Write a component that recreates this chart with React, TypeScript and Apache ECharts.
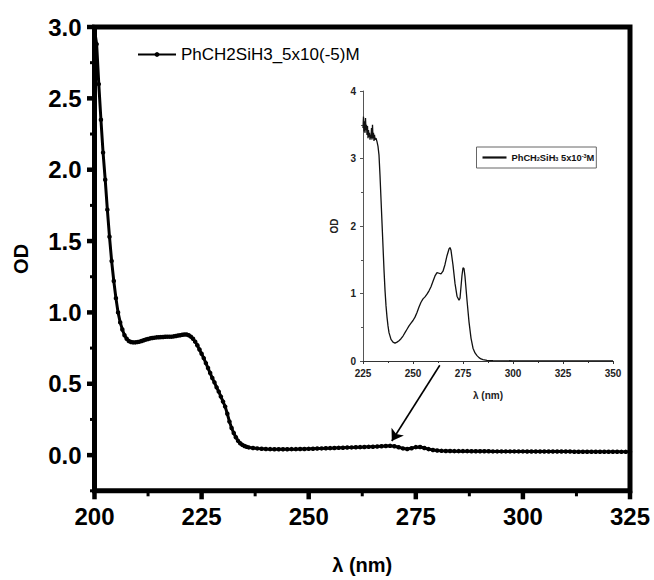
import React, { useEffect, useRef } from "react";
import * as echarts from "echarts";

// Main spectrum: wavelength (nm) and optical density
const mainLambda = [
  200, 200.5, 201, 201.5, 202, 202.5, 203, 203.5, 204, 204.5,
  205, 205.5, 206, 206.5, 207, 207.5, 208, 208.5, 209, 209.5,
  210, 210.5, 211, 211.5, 212, 212.5, 213, 213.5, 214, 214.5,
  215, 215.5, 216, 216.5, 217, 217.5, 218, 218.5, 219, 219.5,
  220, 220.5, 221, 221.5, 222, 222.5, 223, 223.5, 224, 224.5,
  225, 225.5, 226, 226.5, 227, 227.5, 228, 228.5, 229, 229.5,
  230, 230.5, 231, 231.5, 232, 232.5, 233, 233.5, 234, 234.5,
  235, 235.5, 236,
  237, 238, 239, 240, 241, 242, 243, 244, 245, 246,
  247, 248, 249, 250, 251, 252, 253, 254, 255, 256,
  257, 258, 259, 260, 261, 262, 263, 264, 265, 266,
  267, 268, 269, 270, 271, 272, 273, 274, 275, 276,
  277, 278, 279, 280, 281, 282, 283, 284, 285, 286,
  287, 288, 289, 290, 291, 292, 293, 294, 295, 296,
  297, 298, 299, 300, 301, 302, 303, 304, 305, 306,
  307, 308, 309, 310, 311, 312, 313, 314, 315, 316,
  317, 318, 319, 320, 321, 322, 323, 324, 325,
];
const mainOD = [
  2.98, 2.88, 2.6, 2.35, 2.12, 1.93, 1.72, 1.53, 1.36, 1.22,
  1.1, 1.0, 0.93, 0.88, 0.84, 0.815, 0.8, 0.793, 0.79, 0.79,
  0.792, 0.795, 0.8, 0.805, 0.81, 0.814, 0.818, 0.821, 0.823, 0.825,
  0.826, 0.827, 0.828, 0.829, 0.83, 0.83, 0.83, 0.832, 0.835, 0.838,
  0.84, 0.843, 0.845, 0.845, 0.84, 0.83, 0.815, 0.795, 0.77, 0.74,
  0.71, 0.68, 0.645, 0.61, 0.575, 0.54, 0.51, 0.475, 0.445, 0.41,
  0.375, 0.34, 0.29, 0.235, 0.19, 0.155, 0.125, 0.1, 0.083, 0.072,
  0.064, 0.058, 0.054,
  0.05, 0.047, 0.045, 0.043, 0.042, 0.041, 0.041, 0.041, 0.041, 0.042,
  0.042, 0.043, 0.043, 0.044, 0.045, 0.046, 0.047, 0.048, 0.049, 0.05,
  0.051, 0.052, 0.053, 0.054, 0.055, 0.056, 0.057, 0.058, 0.059, 0.06,
  0.062, 0.064, 0.065, 0.062, 0.055, 0.047, 0.043, 0.048, 0.056, 0.057,
  0.05, 0.042, 0.036, 0.032, 0.03, 0.029, 0.029, 0.028, 0.028, 0.028,
  0.028, 0.027, 0.027, 0.027, 0.027, 0.027, 0.026, 0.026, 0.026, 0.026,
  0.026, 0.026, 0.026, 0.026, 0.025, 0.025, 0.025, 0.025, 0.025, 0.025,
  0.025, 0.025, 0.025, 0.025, 0.025, 0.024, 0.024, 0.024, 0.024, 0.024,
  0.024, 0.024, 0.024, 0.024, 0.024, 0.024, 0.023, 0.023, 0.023,
];

// Inset spectrum (higher concentration)
const insetLambda = [
  225, 225.25, 225.5, 225.75, 226, 226.25, 226.5, 226.75, 227, 227.25,
  227.5, 227.75, 228, 228.25, 228.5, 228.75, 229, 229.25, 229.5, 229.75,
  230, 230.25, 230.5, 230.75,
  231, 231.5, 232, 232.5, 233, 233.5, 234, 234.5, 235, 235.5,
  236, 236.5, 237, 237.5, 238,
  239, 240, 241, 242, 243, 244, 245, 246, 247, 248,
  249, 250, 251, 252, 253, 254, 255, 256, 257, 258,
  259, 260, 261, 262, 263, 264, 265, 266, 267, 268,
  268.5, 269, 270, 271, 272, 273, 273.5, 274, 274.5, 275,
  275.5, 276, 277, 278, 279, 280, 281, 282, 283, 284,
  285, 287, 290, 300, 325, 350,
];
const insetOD = [
  3.45, 3.62, 3.4, 3.55, 3.38, 3.6, 3.42, 3.5, 3.35, 3.48,
  3.3, 3.42, 3.32, 3.38, 3.28, 3.35, 3.3, 3.45, 3.28, 3.5,
  3.3, 3.38, 3.26, 3.35,
  3.28, 3.3, 3.25, 3.18, 3.05, 2.75, 2.4, 2.05, 1.7, 1.35,
  1.05, 0.82, 0.65, 0.52, 0.42,
  0.32, 0.28, 0.265, 0.28, 0.3, 0.33, 0.37, 0.42, 0.47, 0.52,
  0.56, 0.6, 0.65, 0.72, 0.8, 0.87, 0.92, 0.95, 0.99, 1.04,
  1.1, 1.18, 1.26, 1.31, 1.3, 1.29, 1.33, 1.43, 1.56, 1.66,
  1.68, 1.64, 1.42, 1.15, 0.96, 0.9, 0.93, 1.1, 1.27, 1.38,
  1.37, 1.25, 0.9, 0.58, 0.34, 0.19, 0.12, 0.08, 0.05, 0.03,
  0.02, 0.01, 0.005, 0.003, 0.002, 0.002,
];

// Tick values of the main frame
const mainXTicks = [200, 225, 250, 275, 300, 325];
const mainXMinor = [212.5, 237.5, 262.5, 287.5, 312.5];
const mainYTicks = [0, 0.5, 1.0, 1.5, 2.0, 2.5, 3.0];
const mainYMinor = [-0.25, 0.25, 0.75, 1.25, 1.75, 2.25, 2.75];

// Arrow from the inset down to the weak bands of the main trace
const arrowFrom = [280.6, 0.63];
const arrowTo = [269.4, 0.099];

const MAIN_NAME = "PhCH2SiH3_5x10(-5)M";
const INSET_NAME = "PhCH2SiH3 5x10-3M";

const SANS = "'Liberation Sans', Arial, Helvetica, sans-serif";
const NARROW = "'Liberation Sans Narrow', 'Arial Narrow', 'Liberation Sans', sans-serif";

export default function App() {
  const ref = useRef<HTMLDivElement>(null);

  useEffect(() => {
    if (!ref.current) return;
    const chart = echarts.init(ref.current, undefined, { renderer: "svg" });

    const mainData = mainLambda.map((x, i) => [x, mainOD[i]]);
    const insetData = insetLambda.map((x, i) => [x, insetOD[i]]);

    const bigLabel = {
      color: "#000",
      fontFamily: SANS,
      fontWeight: "bold" as const,
      fontSize: 24,
    };
    const smallLabel = {
      color: "#222",
      fontFamily: NARROW,
      fontWeight: "bold" as const,
      fontSize: 10,
    };

    chart.setOption({
      animation: false,
      backgroundColor: "#fff",
      grid: [
        {
          left: 94.5,
          top: 27,
          right: 24,
          bottom: 89.2,
          show: true,
          borderColor: "#000",
          borderWidth: 5,
          backgroundColor: "transparent",
          containLabel: false,
        },
        {
          left: 363,
          top: 91,
          right: 41,
          bottom: 219,
          containLabel: false,
        },
      ],
      legend: [
        {
          data: [MAIN_NAME],
          left: 132,
          top: 41,
          itemWidth: 38,
          itemHeight: 6,
          selectedMode: false,
          textStyle: { color: "#000", fontFamily: SANS, fontSize: 17 },
        },
        {
          data: [{ name: INSET_NAME, icon: "rect" }],
          left: 476.5,
          top: 147,
          padding: [6, 2, 6, 6],
          itemWidth: 24,
          itemHeight: 2.2,
          borderColor: "#666",
          borderWidth: 1,
          selectedMode: false,
          itemStyle: { color: "#111" },
          formatter: () => "PhCH{s|2}SiH{s|3} 5x10{p|-3}M",
          textStyle: {
            color: "#111",
            fontFamily: NARROW,
            fontWeight: "bold",
            fontSize: 9.3,
            rich: {
              s: { fontSize: 5.5, fontFamily: NARROW, fontWeight: "bold", verticalAlign: "bottom", color: "#111" },
              p: { fontSize: 5.5, fontFamily: NARROW, fontWeight: "bold", verticalAlign: "top", color: "#111" },
            },
          },
        },
      ],
      xAxis: [
        {
          type: "value",
          gridIndex: 0,
          position: "bottom",
          min: 200,
          max: 325,
          interval: 25,
          name: "λ (nm)",
          nameLocation: "middle",
          nameGap: 64,
          nameTextStyle: { ...bigLabel, fontSize: 20 },
          axisLine: { show: false, onZero: false },
          splitLine: { show: false },
          axisTick: { show: false },
          axisLabel: { ...bigLabel, margin: 14, showMinLabel: true, showMaxLabel: true, hideOverlap: false },
        },
        {
          type: "value",
          gridIndex: 1,
          position: "bottom",
          min: 225,
          max: 350,
          interval: 25,
          name: "λ (nm)",
          nameLocation: "middle",
          nameGap: 29,
          nameTextStyle: { ...smallLabel, fontSize: 10 },
          axisLine: { show: true, onZero: false, lineStyle: { color: "#333", width: 1.2 } },
          splitLine: { show: false },
          axisTick: { show: true, length: 3, lineStyle: { color: "#333", width: 1 } },
          minorTick: { show: true, splitNumber: 2, length: 2, lineStyle: { color: "#333", width: 1 } },
          axisLabel: { ...smallLabel, margin: 7, showMinLabel: true, showMaxLabel: true, hideOverlap: false },
        },
      ],
      yAxis: [
        {
          type: "value",
          gridIndex: 0,
          position: "left",
          min: -0.25,
          max: 3.0,
          name: "OD",
          nameLocation: "middle",
          nameGap: 64,
          nameTextStyle: { ...bigLabel, fontSize: 20 },
          axisLine: { show: false, onZero: false },
          splitLine: { show: false },
          axisTick: { show: false },
          axisLabel: {
            ...bigLabel,
            margin: 13,
            customValues: mainYTicks,
            formatter: (v: number) => v.toFixed(1),
          },
        },
        {
          type: "value",
          gridIndex: 1,
          position: "left",
          min: 0,
          max: 4,
          interval: 1,
          name: "OD",
          nameLocation: "middle",
          nameGap: 24,
          nameTextStyle: { ...smallLabel, fontSize: 10 },
          axisLine: { show: true, onZero: false, lineStyle: { color: "#555", width: 1 } },
          splitLine: { show: false },
          axisTick: { show: true, length: 3, lineStyle: { color: "#555", width: 1 } },
          minorTick: { show: true, splitNumber: 2, length: 2, lineStyle: { color: "#555", width: 1 } },
          axisLabel: { ...smallLabel, margin: 7 },
        },
      ],
      series: [
        {
          name: MAIN_NAME,
          type: "line",
          xAxisIndex: 0,
          yAxisIndex: 0,
          data: mainData,
          symbol: "circle",
          symbolSize: 4.5,
          showSymbol: true,
          showAllSymbol: true,
          itemStyle: { color: "#000" },
          lineStyle: { color: "#000", width: 3 },
          z: 3,
          markLine: {
            silent: true,
            symbol: ["none", "arrow"],
            symbolSize: 11,
            label: { show: false },
            lineStyle: { color: "#000", width: 1.6, type: "solid" },
            data: [[{ coord: arrowFrom }, { coord: arrowTo }]],
          },
        },
        {
          name: INSET_NAME,
          type: "line",
          xAxisIndex: 1,
          yAxisIndex: 1,
          data: insetData,
          symbol: "none",
          itemStyle: { color: "#000" },
          lineStyle: { color: "#111", width: 1.3 },
        },
      ],
    });

    // Outward tick marks on the heavy frame, placed through the main grid's scales
    const toPx = (x: number, y: number) =>
      chart.convertToPixel({ gridIndex: 0 }, [x, y]) as number[];
    const [frameLeft, frameBottom] = toPx(200, -0.25);
    const ticks: any[] = [];
    const xTick = (v: number, len: number, w: number) => {
      const [x] = toPx(v, -0.25);
      ticks.push({
        type: "line",
        shape: { x1: x, y1: frameBottom, x2: x, y2: frameBottom + len },
        style: { stroke: "#000", lineWidth: w },
        z: 10,
      });
    };
    const yTick = (v: number, len: number, w: number) => {
      const [, y] = toPx(200, v);
      ticks.push({
        type: "line",
        shape: { x1: frameLeft, y1: y, x2: frameLeft - len, y2: y },
        style: { stroke: "#000", lineWidth: w },
        z: 10,
      });
    };
    mainXTicks.forEach((v) => xTick(v, 8.5, 4.5));
    mainXMinor.forEach((v) => xTick(v, 5.5, 3));
    mainYTicks.forEach((v) => yTick(v, 7.5, 4.5));
    mainYMinor.forEach((v) => yTick(v, 4.5, 3));
    chart.setOption({ graphic: { elements: ticks } });

    return () => chart.dispose();
  }, []);

  return (
    <div
      ref={ref}
      style={{ position: "absolute", left: 0, top: 0, width: 654, height: 580, background: "#fff" }}
    />
  );
}
